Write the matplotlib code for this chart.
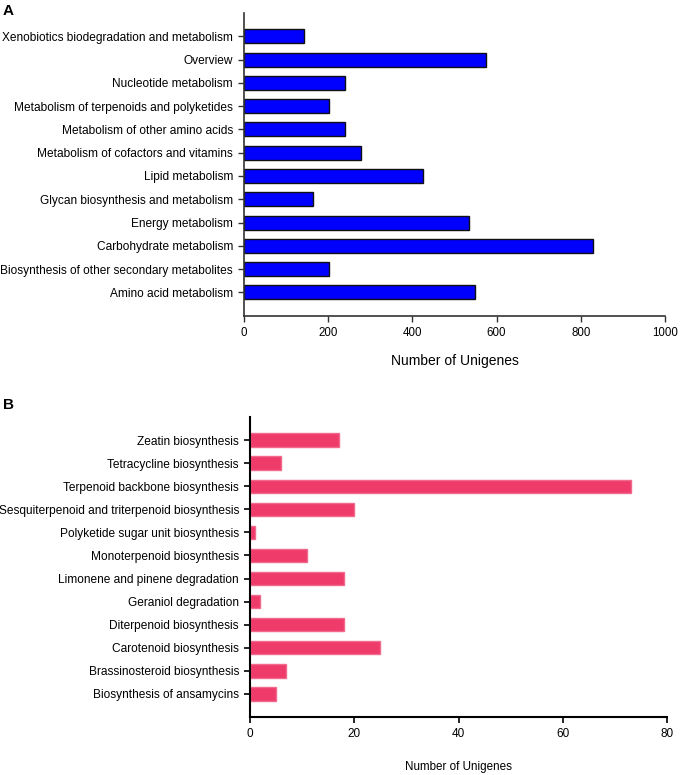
import matplotlib
matplotlib.use("Agg")
import matplotlib.pyplot as plt

plt.rcParams['font.family'] = ['Liberation Sans', 'DejaVu Sans']

cats_a = ["Amino acid metabolism",
          "Biosynthesis of other secondary metabolites",
          "Carbohydrate metabolism",
          "Energy metabolism",
          "Glycan biosynthesis and metabolism",
          "Lipid metabolism",
          "Metabolism of cofactors and vitamins",
          "Metabolism of other amino acids",
          "Metabolism of terpenoids and polyketides",
          "Nucleotide metabolism",
          "Overview",
          "Xenobiotics biodegradation and metabolism"]
vals_a = [549, 203, 830, 534, 165, 426, 279, 241, 203, 239, 575, 143]
ticks_a = [0, 200, 400, 600, 800, 1000]

cats_b = ["Biosynthesis of ansamycins",
          "Brassinosteroid biosynthesis",
          "Carotenoid biosynthesis",
          "Diterpenoid biosynthesis",
          "Geraniol degradation",
          "Limonene and pinene degradation",
          "Monoterpenoid biosynthesis",
          "Polyketide sugar unit biosynthesis",
          "Sesquiterpenoid and triterpenoid biosynthesis",
          "Terpenoid backbone biosynthesis",
          "Tetracycline biosynthesis",
          "Zeatin biosynthesis"]
vals_b = [5, 7, 25, 18, 2, 18, 11, 1, 20, 73, 6, 17]
ticks_b = [0, 20, 40, 60, 80]

W, H = 680, 775
fig = plt.figure(figsize=(W / 100, H / 100), dpi=100)

def fx(px):
    return px / W

def fy(py):
    return 1 - py / H

# Panel A
axA = fig.add_axes([fx(244), fy(315.7), fx(665) - fx(244), fy(13) - fy(315.7)])
ya = list(range(len(cats_a)))
axA.barh(ya, vals_a, height=0.6, color='#0000FF', edgecolor='#111111', linewidth=1.0, left=0)
axA.set_xlim(0, 1000)
axA.set_ylim(-1, len(cats_a))
axA.set_yticks(ya)
axA.set_yticklabels(cats_a, fontsize=8.6)
axA.set_xticks(ticks_a)
axA.set_xticklabels([str(t) for t in ticks_a], fontsize=8.3)
for s in ['top', 'right']:
    axA.spines[s].set_visible(False)
for s in ['left', 'bottom']:
    axA.spines[s].set_color('#333333')
    axA.spines[s].set_linewidth(1.2)
axA.tick_params(axis='both', direction='out', length=4, width=1, color='#333333', pad=4)
axA.tick_params(axis='x', pad=4)
axA.set_xlabel("Number of Unigenes", fontsize=10, labelpad=11)

# Panel B
axB = fig.add_axes([fx(250), fy(717), fx(667) - fx(250), fy(417) - fy(717)])
yb = list(range(len(cats_b)))
axB.barh(yb, vals_b, height=0.58, color='#EF3B6A', edgecolor='#F06A8E', linewidth=1.0)
axB.set_xlim(0, 80)
axB.set_ylim(-1, len(cats_b))
axB.set_yticks(yb)
axB.set_yticklabels(cats_b, fontsize=8.6)
axB.set_xticks(ticks_b)
axB.set_xticklabels([str(t) for t in ticks_b], fontsize=8.5)
for s in ['top', 'right']:
    axB.spines[s].set_visible(False)
for s in ['left', 'bottom']:
    axB.spines[s].set_color('black')
    axB.spines[s].set_linewidth(1.5)
axB.tick_params(axis='both', direction='out', length=4, width=1.2, color='black', pad=4)
axB.tick_params(axis='x', pad=4)
axB.set_xlabel("Number of Unigenes", fontsize=8.4, labelpad=15)

fig.text(fx(3), fy(11), "A", fontsize=11, fontweight='bold', va='center', ha='left')
fig.text(fx(3), fy(405), "B", fontsize=11, fontweight='bold', va='center', ha='left')

fig.savefig("out.png", dpi=100)
